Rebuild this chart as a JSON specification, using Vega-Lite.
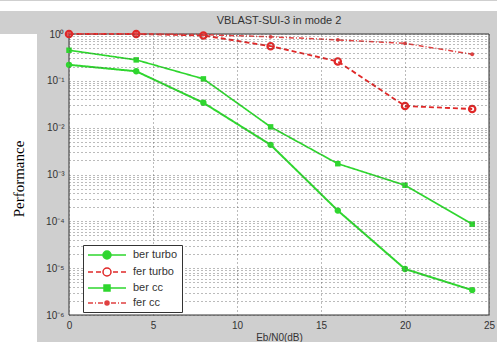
{
  "$schema": "https://vega.github.io/schema/vega-lite/v6.json",
  "background": "#cfcfcf",
  "padding": 0,
  "spacing": 4,
  "config": {
    "font": "Liberation Sans",
    "axis": {"labelFont": "Liberation Sans", "titleFont": "Liberation Sans", "labelColor": "#333", "titleColor": "#333"}
  },
  "resolve": {"legend": {"fill": "independent", "stroke": "independent", "shape": "independent"}},
  "vconcat": [
    {
      "width": 497, "height": 10,
      "view": {"fill": "white", "stroke": null},
      "data": {"values": [{"t": ""}]},
      "mark": {"type": "text"},
      "encoding": {"text": {"field": "t"}}
    },
    {
      "spacing": 0,
      "resolve": {"legend": {"fill": "independent", "stroke": "independent", "shape": "independent"}},
      "hconcat": [
        {
          "width": 37, "height": 312,
          "view": {"fill": "white", "stroke": null},
          "data": {"values": [{"t": "Performance"}]},
          "mark": {"type": "text", "angle": 270, "font": "Liberation Serif", "fontSize": 15, "color": "black", "dx": 11},
          "encoding": {"text": {"field": "t"}}
        },
        {
          "width": 420, "height": 281,
          "title": {"text": "VBLAST-SUI-3 in mode 2", "fontSize": 11, "fontWeight": "normal", "color": "#333", "font": "Liberation Sans", "offset": 0},
          "view": {"fill": "#cfcfcf", "stroke": null},
          "data": {"values": [
            {"x": 0, "v": 0.22, "series": "ber turbo"},
            {"x": 4, "v": 0.16, "series": "ber turbo"},
            {"x": 8, "v": 0.034, "series": "ber turbo"},
            {"x": 12, "v": 0.0043, "series": "ber turbo"},
            {"x": 16, "v": 0.00017, "series": "ber turbo"},
            {"x": 20, "v": 0.0000096, "series": "ber turbo"},
            {"x": 24, "v": 0.0000034, "series": "ber turbo"},
            {"x": 0, "v": 1, "series": "fer turbo"},
            {"x": 4, "v": 1, "series": "fer turbo"},
            {"x": 8, "v": 0.93, "series": "fer turbo"},
            {"x": 12, "v": 0.55, "series": "fer turbo"},
            {"x": 16, "v": 0.26, "series": "fer turbo"},
            {"x": 20, "v": 0.029, "series": "fer turbo"},
            {"x": 24, "v": 0.025, "series": "fer turbo"},
            {"x": 0, "v": 0.45, "series": "ber cc"},
            {"x": 4, "v": 0.28, "series": "ber cc"},
            {"x": 8, "v": 0.11, "series": "ber cc"},
            {"x": 12, "v": 0.0104, "series": "ber cc"},
            {"x": 16, "v": 0.0017, "series": "ber cc"},
            {"x": 20, "v": 0.00059, "series": "ber cc"},
            {"x": 24, "v": 0.000087, "series": "ber cc"},
            {"x": 0, "v": 1, "series": "fer cc"},
            {"x": 4, "v": 1, "series": "fer cc"},
            {"x": 8, "v": 0.97, "series": "fer cc"},
            {"x": 12, "v": 0.87, "series": "fer cc"},
            {"x": 16, "v": 0.75, "series": "fer cc"},
            {"x": 20, "v": 0.63, "series": "fer cc"},
            {"x": 24, "v": 0.37, "series": "fer cc"}
          ]},
          "layer": [
            {
              "data": {"values": [{"x0": 0, "x1": 25, "y0": 0.000001, "y1": 1}]},
              "mark": {"type": "rect", "fill": "white", "stroke": "#333", "strokeWidth": 1},
              "encoding": {
                "x": {"field": "x0", "type": "quantitative"}, "x2": {"field": "x1"},
                "y": {"field": "y0", "type": "quantitative"}, "y2": {"field": "y1"}
              }
            },
            {
              "mark": {"type": "line"},
              "encoding": {
                "x": {"field": "x", "type": "quantitative", "scale": {"domain": [0, 25], "nice": false},
                  "axis": {"values": [0, 5, 10, 15, 20, 25], "title": "Eb/N0(dB)", "titleFontSize": 10, "titleFontWeight": "normal", "titlePadding": 2, "labelFontSize": 10, "labelPadding": 5, "ticks": false, "domain": false, "grid": true, "gridColor": "#555", "gridDash": [1, 3], "gridOpacity": 0.8, "labelFlush": false, "zindex": 1}},
                "y": {"field": "v", "type": "quantitative", "scale": {"type": "log", "domain": [0.000001, 1], "nice": false},
                  "axis": {"title": null, "values": [1e-6, 2e-6, 3e-6, 4e-6, 5e-6, 6e-6, 7e-6, 8e-6, 9e-6, 1e-5, 2e-5, 3e-5, 4e-5, 5e-5, 6e-5, 7e-5, 8e-5, 9e-5, 1e-4, 2e-4, 3e-4, 4e-4, 5e-4, 6e-4, 7e-4, 8e-4, 9e-4, 0.001, 0.002, 0.003, 0.004, 0.005, 0.006, 0.007, 0.008, 0.009, 0.01, 0.02, 0.03, 0.04, 0.05, 0.06, 0.07, 0.08, 0.09, 0.1, 0.2, 0.3, 0.4, 0.5, 0.6, 0.7, 0.8, 0.9, 1],
                    "labelExpr": "abs(log(datum.value)/LN10 - round(log(datum.value)/LN10)) < 0.000001 ? ['10⁰','10⁻¹','10⁻²','10⁻³','10⁻⁴','10⁻⁵','10⁻⁶'][abs(round(log(datum.value)/LN10))] : ''",
                    "labelOverlap": false, "labelFontSize": 10, "labelPadding": 5, "ticks": false, "domain": false, "grid": true, "gridColor": "#555", "gridDash": [1, 3], "gridOpacity": 0.8, "minExtent": 32, "maxExtent": 32, "labelFlush": false, "zindex": 1}},
                "color": {"field": "series", "type": "nominal", "scale": {"domain": ["ber turbo", "fer turbo", "ber cc", "fer cc"], "range": ["#2fd62f", "#e02828", "#2fd62f", "#e04040"]}, "legend": null},
                "strokeDash": {"field": "series", "type": "nominal", "scale": {"domain": ["ber turbo", "fer turbo", "ber cc", "fer cc"], "range": [[1, 0], [5, 3], [1, 0], [5, 2, 1, 2]]}, "legend": null},
                "strokeWidth": {"field": "series", "type": "nominal", "scale": {"domain": ["ber turbo", "fer turbo", "ber cc", "fer cc"], "range": [2, 1.5, 2, 1.2]}, "legend": null}
              }
            },
            {
              "transform": [{"filter": "datum.series === 'ber turbo'"}],
              "mark": {"type": "point", "filled": true, "opacity": 1, "shape": "circle", "size": 40, "color": "#2fd62f"},
              "encoding": {"x": {"field": "x", "type": "quantitative"}, "y": {"field": "v", "type": "quantitative"}}
            },
            {
              "transform": [{"filter": "datum.series === 'fer turbo'"}],
              "mark": {"type": "point", "filled": false, "opacity": 1, "shape": "circle", "size": 40, "strokeWidth": 2.2, "color": "#e02828"},
              "encoding": {"x": {"field": "x", "type": "quantitative"}, "y": {"field": "v", "type": "quantitative"}}
            },
            {
              "transform": [{"filter": "datum.series === 'ber cc'"}],
              "mark": {"type": "point", "filled": true, "opacity": 1, "shape": "square", "size": 30, "color": "#2fd62f"},
              "encoding": {"x": {"field": "x", "type": "quantitative"}, "y": {"field": "v", "type": "quantitative"}}
            },
            {
              "transform": [{"filter": "datum.series === 'fer cc'"}],
              "mark": {"type": "point", "filled": true, "opacity": 1, "shape": "circle", "size": 15, "color": "#e04040"},
              "encoding": {"x": {"field": "x", "type": "quantitative"}, "y": {"field": "v", "type": "quantitative"}}
            },
            {
              "transform": [{"filter": "false"}],
              "mark": {"type": "point", "filled": true, "strokeWidth": 1.5},
              "encoding": {
                "x": {"field": "x", "type": "quantitative"}, "y": {"field": "v", "type": "quantitative"},
                "fill": {"field": "series", "type": "nominal", "scale": {"domain": ["ber turbo", "fer turbo", "ber cc", "fer cc"], "range": ["#2fd62f", "#ffffff", "#2fd62f", "#e04040"]}, "legend": {"title": null, "orient": "none", "legendX": 14, "legendY": 211, "zindex": 2}},
                "stroke": {"field": "series", "type": "nominal", "scale": {"domain": ["ber turbo", "fer turbo", "ber cc", "fer cc"], "range": ["#2fd62f", "#e02828", "#2fd62f", "#e04040"]}, "legend": {"title": null, "orient": "none", "legendX": 14, "legendY": 211, "zindex": 2}},
                "shape": {"field": "series", "type": "nominal", "scale": {"domain": ["ber turbo", "fer turbo", "ber cc", "fer cc"], "range": [
                  "M-1,0H6.6M2,0A0.8,0.8 0 1,1 3.6,0A0.8,0.8 0 1,1 2,0Z",
                  "M-1,0H0M0.6,0H1.6M4,0H5M5.6,0H6.6M2,0A0.8,0.8 0 1,1 3.6,0A0.8,0.8 0 1,1 2,0Z",
                  "M-1,0H6.6M2.2,-0.6H3.4V0.6H2.2Z",
                  "M-1,0H0M0.4,0H0.6M1,0H2M3.6,0H4.6M5,0H5.2M5.6,0H6.6M2.4,0A0.4,0.4 0 1,1 3.2,0A0.4,0.4 0 1,1 2.4,0Z"
                ]}, "legend": {"title": null, "orient": "none", "legendX": 14, "legendY": 211, "zindex": 2, "fillColor": "white", "strokeColor": "#333", "padding": 4, "labelFontSize": 11, "labelColor": "#333", "symbolSize": 100, "symbolStrokeWidth": 1.5, "symbolOpacity": 1, "rowPadding": 3, "labelOffset": 34}}
              }
            }
          ]
        }
      ]
    }
  ]
}
